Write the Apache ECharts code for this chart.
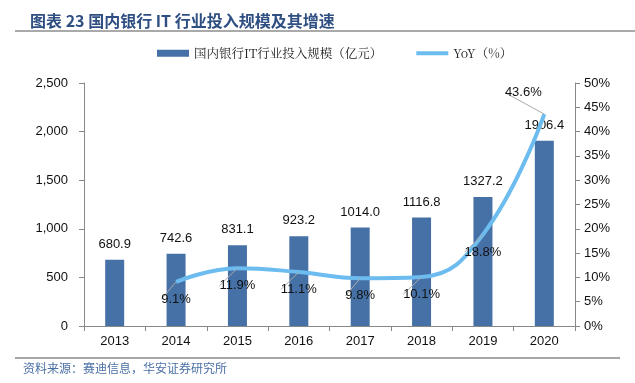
<!DOCTYPE html>
<html><head><meta charset="utf-8">
<script src="https://cdn.jsdelivr.net/npm/echarts@6/dist/echarts.min.js"></script>
<style>html,body{margin:0;padding:0;background:#fff}#c{width:635px;height:383px}</style>
</head><body><div id="c"></div>
<script>
const categories = ['2013','2014','2015','2016','2017','2018','2019','2020'];
const investment = [680.9, 742.6, 831.1, 923.2, 1014.0, 1116.8, 1327.2, 1906.4];
const yoy = [null, 9.1, 11.9, 11.1, 9.8, 10.1, 18.8, 43.6];
const leftTicks = [0, 500, 1000, 1500, 2000, 2500];
const rightTicks = [0, 5, 10, 15, 20, 25, 30, 35, 40, 45, 50];

const chart = echarts.init(document.getElementById('c'));
const font = 'Liberation Sans, Arial, sans-serif';
chart.setOption({
  animation: false,
  textStyle: {fontFamily: font},
  title: {
    text: '图表 23 国内银行 IT 行业投入规模及其增速',
    left: 25, top: 8,
    textStyle: {fontFamily: 'Noto Sans CJK SC', fontSize: 16, fontWeight: 'bold', color: '#2f4e82'}
  },
  graphic: [
    {type: 'line', shape: {x1: 15, y1: 31, x2: 635, y2: 31}, style: {stroke: '#555', lineWidth: 1}},
    {type: 'line', shape: {x1: 15, y1: 358, x2: 620, y2: 358}, style: {stroke: '#888', lineWidth: 1.5}},
    {type: 'text', left: 23, top: 362, style: {text: '资料来源：赛迪信息，华安证券研究所', font: '12px "Noto Sans CJK SC"', fill: '#4a6fa5'}}
  ],
  legend: {
    top: 42, left: 152, itemWidth: 32, itemHeight: 7, itemGap: 34,
    textStyle: {fontFamily: 'Noto Serif CJK SC, Noto Sans CJK SC', fontSize: 12.5, color: '#222'},
    data: [
      {name: '国内银行IT行业投入规模（亿元）', icon: 'rect'},
      {name: 'YoY（%）', icon: 'path://M0,0L32,0L32,4L0,4Z'}
    ]
  },
  grid: {left: 84, right: 60, top: 83, bottom: 57},
  xAxis: {
    type: 'category', data: categories,
    axisLine: {lineStyle: {color: '#888'}},
    axisTick: {show: true, length: 5, lineStyle: {color: '#888'}},
    axisLabel: {color: '#111', fontSize: 13, margin: 9}
  },
  yAxis: [
    {
      type: 'value', min: leftTicks[0], max: leftTicks[leftTicks.length - 1], interval: 500,
      axisLine: {show: true, lineStyle: {color: '#888'}},
      axisTick: {show: true, inside: false, length: 5, lineStyle: {color: '#888'}},
      splitLine: {show: false},
      axisLabel: {color: '#111', fontSize: 13, margin: 16, formatter: v => v.toLocaleString('en-US')}
    },
    {
      type: 'value', min: rightTicks[0], max: rightTicks[rightTicks.length - 1], interval: 5,
      axisLine: {show: true, lineStyle: {color: '#888'}},
      axisTick: {show: true, length: 5, lineStyle: {color: '#888'}},
      splitLine: {show: false},
      axisLabel: {color: '#111', fontSize: 13, margin: 9, formatter: '{value}%'}
    }
  ],
  series: [
    {
      name: '国内银行IT行业投入规模（亿元）', type: 'bar', data: investment, barWidth: 19,
      itemStyle: {color: '#4671a7'},
      label: {show: true, position: 'top', distance: 9, color: '#111', fontSize: 13, formatter: p => p.value.toFixed(1)}
    },
    {
      name: 'YoY（%）', type: 'line', yAxisIndex: 1, data: yoy, smooth: 0.45,
      symbol: 'circle', symbolSize: 0, showSymbol: true, connectNulls: false,
      lineStyle: {color: '#6cbcf0', width: 4},
      itemStyle: {color: '#6cbcf0'},
      label: {show: true, position: 'bottom', distance: 11, color: '#111', fontSize: 13, formatter: p => p.value.toFixed(1) + '%'},
      labelLine: {show: true, lineStyle: {color: '#aaa', width: 1}},
      labelLayout: p => p.dataIndex === 7 ? {dx: -21, dy: -39} : {}
    }
  ]
});
</script></body></html>
